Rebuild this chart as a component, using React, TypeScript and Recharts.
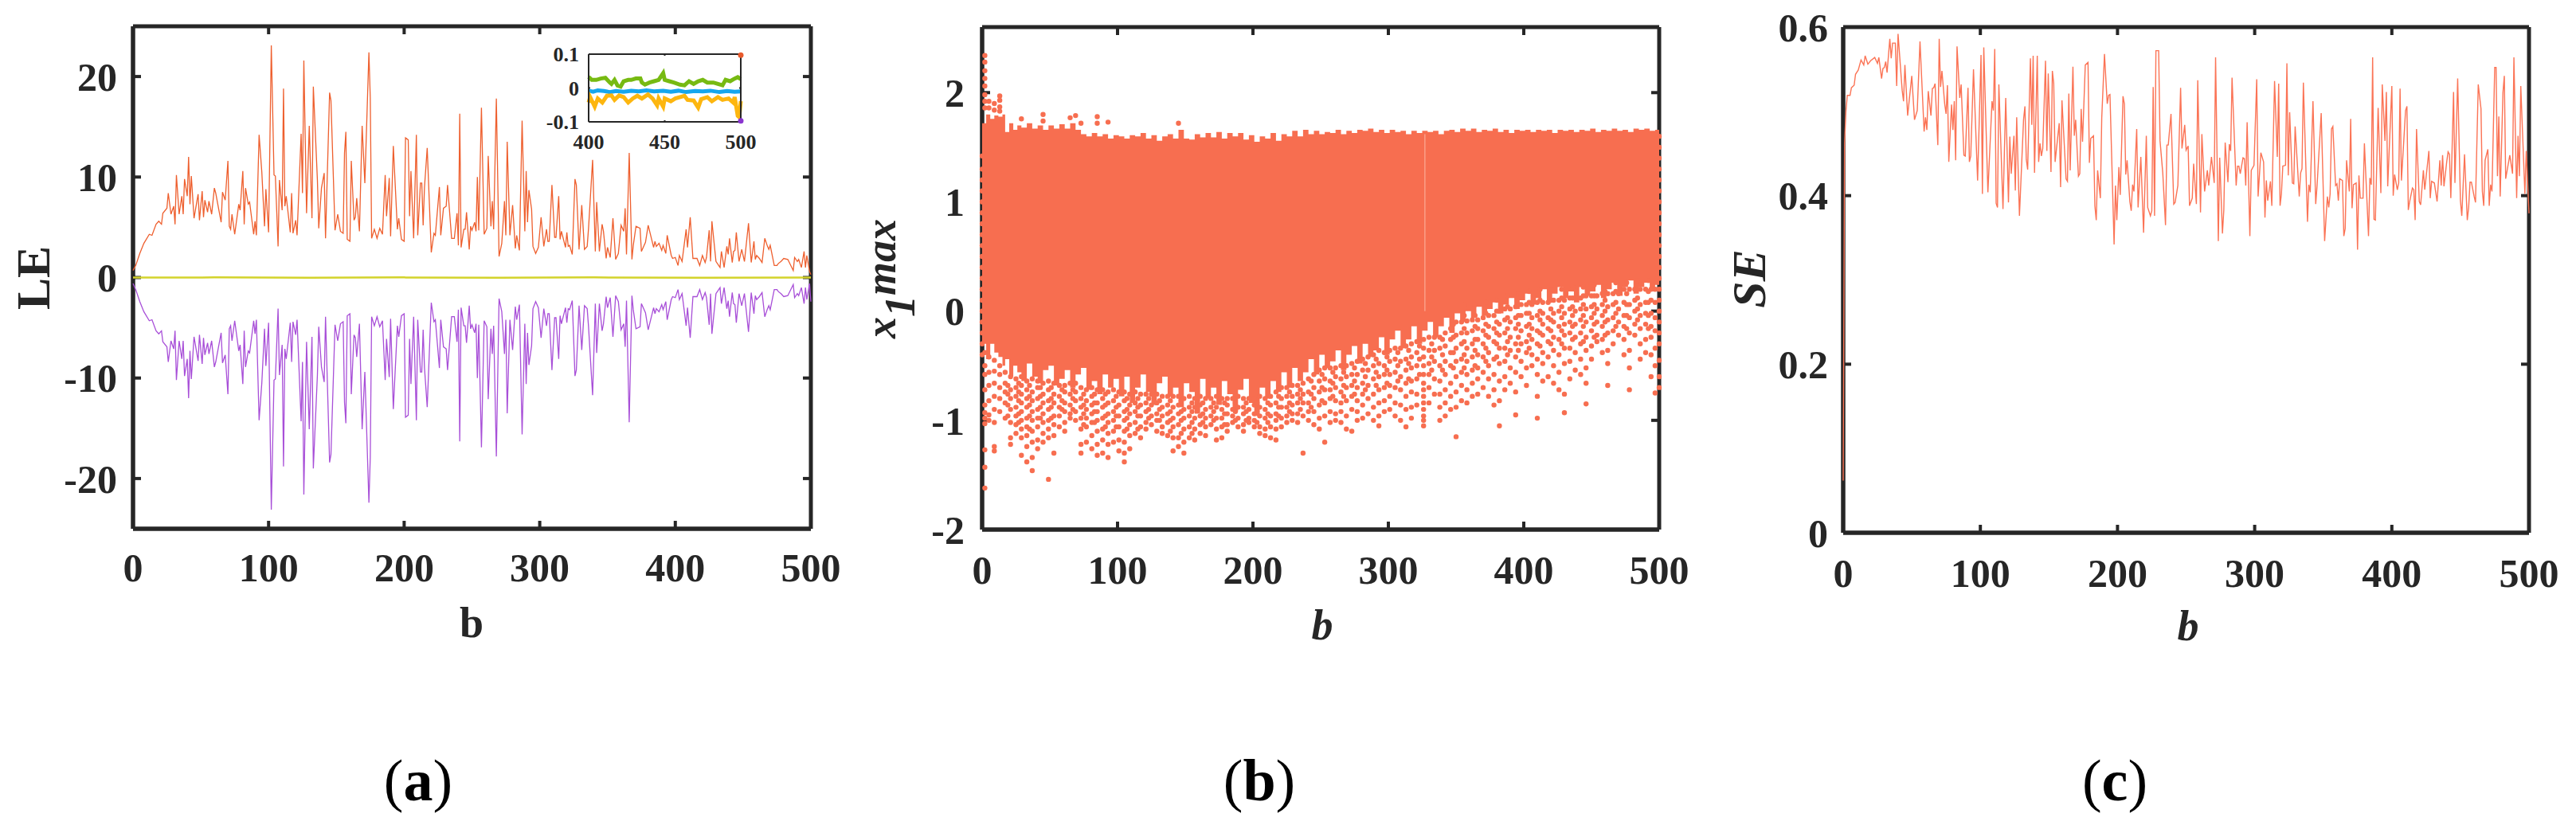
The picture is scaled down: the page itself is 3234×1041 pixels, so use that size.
import React from 'react';
import { LineChart, ComposedChart, Line, Area, Scatter, XAxis, YAxis, ReferenceLine } from 'recharts';

const bTicks = [0, 100, 200, 300, 400, 500];
const leTicks = [-20, -10, 0, 10, 20];
const xTicks = [-2, -1, 0, 1, 2];
const seTicks = [0, 0.2, 0.4, 0.6];
const insetBTicks = [400, 450, 500];
const insetTicks = [-0.1, 0, 0.1];

const lePositive: number[][] = [[0,0.7],[2,1.2],[5,2.4],[8,3.4],[12,4.3],[14,4.2],[17,5.3],[19,5.6],[21,5.3],[22,6.4],[25,6.9],[26,8.4],[28,6.3],[30,7.1],[31,5.3],[32,10.2],[34,6.3],[36,8.1],[37,6.3],[38,9.8],[40,8.1],[41,12.0],[42,7.3],[43,10.1],[45,5.9],[48,8.3],[49,5.7],[51,8.6],[52,6.0],[53,7.7],[55,6.5],[56,7.6],[58,6.3],[60,8.9],[61,8.4],[65,5.5],[66,8.5],[68,7.7],[70,11.6],[71,5.1],[72,4.8],[73,6.3],[75,4.3],[78,7.3],[79,6.7],[81,10.6],[82,5.3],[83,8.9],[85,7.3],[86,7.5],[89,4.3],[90,5.6],[91,4.2],[93,14.2],[95,10.5],[97,5.1],[98,8.8],[100,4.5],[102,23.1],[104,10.2],[105,10.1],[107,3.1],[108,9.7],[110,6.7],[111,18.8],[112,7.1],[113,8.1],[116,4.5],[117,8.4],[118,4.4],[120,5.7],[121,4.2],[124,14.3],[125,8.4],[126,21.6],[128,6.4],[130,15.1],[132,5.9],[133,19.0],[136,9.7],[137,4.9],[139,8.9],[141,10.4],[142,3.9],[145,18.4],[146,17.6],[149,4.7],[151,6.3],[153,4.6],[155,4.4],[156,12.4],[157,14.5],[158,3.8],[160,3.6],[161,11.6],[163,5.7],[164,6.0],[165,7.9],[167,4.6],[169,15.1],[171,9.4],[174,22.4],[175,17.9],[176,3.9],[178,4.8],[180,3.9],[182,4.9],[184,4.3],[186,10.2],[187,6.1],[189,9.9],[190,4.1],[192,13.1],[195,4.8],[196,5.9],[198,3.8],[200,3.6],[201,13.9],[203,13.7],[204,6.1],[205,10.6],[207,3.9],[209,14.2],[210,4.2],[212,9.4],[213,9.4],[214,5.2],[215,9.0],[217,12.9],[220,2.5],[222,4.4],[223,4.2],[226,9.0],[227,4.2],[229,6.9],[231,7.1],[232,9.2],[235,3.9],[237,3.9],[239,6.4],[240,3.2],[241,16.3],[242,3.0],[244,4.8],[245,4.8],[246,6.5],[248,2.8],[249,5.1],[250,4.7],[252,5.5],[253,4.6],[254,10.0],[255,4.7],[257,16.9],[259,4.3],[261,4.9],[262,12.1],[264,5.1],[265,7.6],[266,4.8],[268,17.8],[270,2.1],[272,3.4],[274,7.6],[275,4.2],[276,13.5],[278,4.2],[280,7.2],[282,2.9],[283,4.2],[285,2.7],[287,15.6],[289,4.6],[290,10.6],[291,5.5],[292,8.7],[294,6.8],[295,3.1],[297,2.4],[299,3.0],[301,6.0],[303,3.1],[305,4.8],[306,3.6],[307,3.6],[309,9.2],[311,4.0],[312,4.0],[314,8.1],[315,3.8],[316,4.6],[319,3.0],[320,4.5],[321,3.1],[322,3.2],[324,2.3],[326,9.8],[327,9.2],[329,2.8],[331,7.2],[333,2.8],[335,3.1],[336,4.9],[339,11.7],[341,2.6],[342,7.5],[344,2.6],[346,5.3],[347,4.6],[349,1.9],[350,3.0],[352,2.0],[354,5.9],[356,1.8],[358,2.4],[360,5.2],[362,4.6],[363,6.9],[364,2.3],[366,12.4],[368,1.8],[369,3.2],[371,5.1],[374,4.9],[375,2.6],[378,3.5],[380,5.2],[384,3.0],[385,3.6],[386,3.1],[388,3.4],[390,2.7],[391,3.2],[393,2.4],[394,4.2],[397,2.2],[398,1.9],[400,2.0],[402,1.2],[403,2.2],[405,1.6],[408,4.8],[409,3.0],[411,6.0],[413,1.9],[416,1.9],[418,1.2],[420,2.2],[422,1.5],[423,2.0],[425,4.7],[426,1.6],[427,5.6],[430,1.6],[433,1.0],[434,2.6],[436,1.0],[438,3.1],[439,2.3],[440,3.9],[442,1.5],[443,2.6],[444,2.7],[445,4.5],[447,1.6],[449,2.8],[451,1.6],[454,5.4],[456,1.5],[458,3.6],[459,1.8],[460,2.2],[462,1.9],[464,1.5],[466,3.9],[468,3.1],[469,2.8],[470,3.2],[473,1.2],[475,1.2],[476,1.4],[478,1.6],[480,1.9],[483,1.8],[487,0.7],[488,2.0],[490,1.6],[491,1.8],[493,1.0],[495,2.6],[496,1.0],[497,2.2],[499,0.6],[500,0.3]];

const leNegative: number[][] = [[0,-0.6],[2,-1.2],[5,-2.4],[8,-3.4],[12,-4.3],[14,-4.2],[17,-5.3],[19,-5.6],[21,-5.3],[22,-6.4],[25,-6.9],[26,-8.4],[28,-6.3],[30,-7.1],[31,-5.3],[32,-10.2],[34,-6.3],[36,-8.1],[37,-6.3],[38,-9.8],[40,-8.1],[41,-12.0],[42,-7.3],[43,-10.1],[45,-5.9],[48,-8.3],[49,-5.7],[51,-8.6],[52,-6.0],[53,-7.7],[55,-6.5],[56,-7.6],[58,-6.3],[60,-8.9],[61,-8.4],[65,-5.5],[66,-8.5],[68,-7.7],[70,-11.6],[71,-5.1],[72,-4.8],[73,-6.3],[75,-4.3],[78,-7.3],[79,-6.7],[81,-10.6],[82,-5.3],[83,-8.9],[85,-7.3],[86,-7.5],[89,-4.3],[90,-5.6],[91,-4.2],[93,-14.2],[95,-10.5],[97,-5.1],[98,-8.8],[100,-4.5],[102,-23.1],[104,-10.2],[105,-10.1],[107,-3.1],[108,-9.7],[110,-6.7],[111,-18.8],[112,-7.1],[113,-8.1],[116,-4.5],[117,-8.4],[118,-4.4],[120,-5.7],[121,-4.2],[124,-14.3],[125,-8.4],[126,-21.6],[128,-6.4],[130,-15.1],[132,-5.9],[133,-19.0],[136,-9.7],[137,-4.9],[139,-8.9],[141,-10.4],[142,-3.9],[145,-18.4],[146,-17.6],[149,-4.7],[151,-6.3],[153,-4.6],[155,-4.4],[156,-12.4],[157,-14.5],[158,-3.8],[160,-3.6],[161,-11.6],[163,-5.7],[164,-6.0],[165,-7.9],[167,-4.6],[169,-15.1],[171,-9.4],[174,-22.4],[175,-17.9],[176,-3.9],[178,-4.8],[180,-3.9],[182,-4.9],[184,-4.3],[186,-10.2],[187,-6.1],[189,-9.9],[190,-4.1],[192,-13.1],[195,-4.8],[196,-5.9],[198,-3.8],[200,-3.6],[201,-13.9],[203,-13.7],[204,-6.1],[205,-10.6],[207,-3.9],[209,-14.2],[210,-4.2],[212,-9.4],[213,-9.4],[214,-5.2],[215,-9.0],[217,-12.9],[220,-2.5],[222,-4.4],[223,-4.2],[226,-9.0],[227,-4.2],[229,-6.9],[231,-7.1],[232,-9.2],[235,-3.9],[237,-3.9],[239,-6.4],[240,-3.2],[241,-16.3],[242,-3.0],[244,-4.8],[245,-4.8],[246,-6.5],[248,-2.8],[249,-5.1],[250,-4.7],[252,-5.5],[253,-4.6],[254,-10.0],[255,-4.7],[257,-16.9],[259,-4.3],[261,-4.9],[262,-12.1],[264,-5.1],[265,-7.6],[266,-4.8],[268,-17.8],[270,-2.1],[272,-3.4],[274,-7.6],[275,-4.2],[276,-13.5],[278,-4.2],[280,-7.2],[282,-2.9],[283,-4.2],[285,-2.7],[287,-15.6],[289,-4.6],[290,-10.6],[291,-5.5],[292,-8.7],[294,-6.8],[295,-3.1],[297,-2.4],[299,-3.0],[301,-6.0],[303,-3.1],[305,-4.8],[306,-3.6],[307,-3.6],[309,-9.2],[311,-4.0],[312,-4.0],[314,-8.1],[315,-3.8],[316,-4.6],[319,-3.0],[320,-4.5],[321,-3.1],[322,-3.2],[324,-2.3],[326,-9.8],[327,-9.2],[329,-2.8],[331,-7.2],[333,-2.8],[335,-3.1],[336,-4.9],[339,-11.7],[341,-2.6],[342,-7.5],[344,-2.6],[346,-5.3],[347,-4.6],[349,-1.9],[350,-3.0],[352,-2.0],[354,-5.9],[356,-1.8],[358,-2.4],[360,-5.2],[362,-4.6],[363,-6.9],[364,-2.3],[366,-14.4],[368,-1.8],[369,-3.2],[371,-5.1],[374,-4.9],[375,-2.6],[378,-3.5],[380,-5.2],[384,-3.0],[385,-3.6],[386,-3.1],[388,-3.4],[390,-2.7],[391,-3.2],[393,-2.4],[394,-4.2],[397,-2.2],[398,-1.9],[400,-2.0],[402,-1.2],[403,-2.2],[405,-1.6],[408,-4.8],[409,-3.0],[411,-6.0],[413,-1.9],[416,-1.9],[418,-1.2],[420,-2.2],[422,-1.5],[423,-2.0],[425,-4.7],[426,-1.6],[427,-5.6],[430,-1.6],[433,-1.0],[434,-2.6],[436,-1.0],[438,-3.1],[439,-2.3],[440,-3.9],[442,-1.5],[443,-2.6],[444,-2.7],[445,-4.5],[447,-1.6],[449,-2.8],[451,-1.6],[454,-5.4],[456,-1.5],[458,-3.6],[459,-1.8],[460,-2.2],[462,-1.9],[464,-1.5],[466,-3.9],[468,-3.1],[469,-2.8],[470,-3.2],[473,-1.2],[475,-1.2],[476,-1.4],[478,-1.6],[480,-1.9],[483,-1.8],[487,-0.7],[488,-2.0],[490,-1.6],[491,-1.8],[493,-1.0],[495,-2.6],[496,-1.0],[497,-2.2],[499,-0.6],[500,-2.4]];

const leNearZero: number[][] = [[0,0],[60,0.01],[130,-0.01],[200,0.01],[270,-0.01],[340,0.01],[420,-0.01],[500,0]];

const insetGreen: number[][] = [[400,.033],[402,.024],[405,.024],[408,.028],[411,.03],[414,.016],[415,.012],[417,.024],[419,.007],[421,.004],[423,.02],[426,.024],[428,.024],[431,.028],[434,.028],[435,.016],[437,.01],[440,.016],[443,.02],[446,.024],[449,.044],[450,.024],[453,.02],[456,.016],[460,.01],[463,.008],[466,.02],[469,.012],[472,.02],[475,.024],[478,.016],[482,.016],[485,.012],[488,.008],[490,.024],[493,.02],[496,.028],[498,.032],[500,.026]];
const insetBlue: number[][] = [[400,-.008],[403,-.011],[406,-.007],[410,-.009],[414,-.012],[418,-.009],[423,-.011],[428,-.008],[433,-.01],[438,-.007],[443,-.01],[449,-.008],[454,-.011],[459,-.008],[464,-.012],[470,-.009],[475,-.01],[480,-.008],[486,-.012],[491,-.009],[496,-.011],[500,-.01]];
const insetYellow: number[][] = [[400,-.043],[401,-.027],[404,-.055],[406,-.031],[409,-.043],[412,-.023],[415,-.022],[417,-.035],[420,-.022],[423,-.027],[426,-.043],[429,-.031],[432,-.023],[435,-.031],[439,-.019],[442,-.031],[445,-.051],[446,-.031],[449,-.055],[450,-.031],[454,-.039],[457,-.031],[463,-.023],[465,-.035],[469,-.037],[472,-.058],[474,-.033],[478,-.027],[481,-.039],[485,-.027],[488,-.035],[492,-.031],[495,-.043],[496,-.027],[498,-.082],[499,-.086],[500,-.039]];
const insetTopEnd: number[][] = [[500,.097]];
const insetBottomEnd: number[][] = [[500,-.097]];

const sampleEntropy: number[][] = [[0,.062],[1,.462],[2,.5],[3,.519],[5,.519],[6,.528],[8,.531],[9,.544],[11,.549],[13,.561],[15,.555],[16,.566],[18,.556],[20,.56],[23,.564],[25,.557],[26,.564],[28,.539],[29,.551],[30,.552],[31,.559],[32,.546],[34,.586],[35,.563],[36,.581],[38,.581],[39,.53],[40,.592],[43,.525],[44,.512],[45,.555],[47,.495],[50,.542],[52,.49],[54,.501],[56,.583],[59,.476],[60,.493],[61,.478],[62,.524],[64,.495],[65,.527],[66,.528],[67,.533],[69,.46],[70,.586],[71,.529],[72,.548],[74,.509],[75,.497],[76,.531],[77,.44],[79,.508],[80,.478],[81,.512],[82,.442],[83,.577],[85,.516],[86,.532],[88,.448],[89,.447],[91,.528],[92,.44],[93,.447],[95,.55],[98,.418],[100.5,.567],[101.5,.402],[102.5,.576],[105.5,.404],[108.5,.512],[109.5,.501],[110.5,.574],[111.5,.391],[112.5,.386],[113.5,.532],[116.5,.384],[118.5,.516],[120.5,.392],[121.5,.47],[122.5,.426],[124.5,.471],[125.5,.406],[126.5,.493],[128.5,.376],[131.5,.49],[132.5,.506],[133.5,.443],[134.5,.431],[136.5,.563],[137.5,.484],[138.5,.566],[139.5,.427],[141.5,.566],[142.5,.44],[143.5,.462],[144.5,.447],[145.5,.456],[147.5,.56],[148.5,.453],[149.5,.545],[151.5,.428],[152.5,.548],[153.5,.533],[154.5,.44],[157.5,.486],[158.5,.41],[159.5,.513],[162.5,.42],[163.5,.417],[164.5,.521],[165.5,.43],[167.5,.553],[168.5,.471],[169.5,.49],[171.5,.423],[172.5,.426],[173.5,.503],[174.5,.464],[176.5,.555],[178.5,.558],[179.5,.439],[180.5,.468],[182.5,.471],[183.5,.388],[184.5,.371],[185.5,.43],[187.5,.397],[188.5,.492],[190.5,.568],[192.5,.509],[193.5,.519],[194.5,.52],[197.5,.342],[198.5,.412],[199.5,.371],[201,.434],[202,.401],[204,.518],[205,.509],[206,.425],[207,.442],[209,.393],[210,.382],[211,.413],[212,.405],[214,.479],[215,.386],[217,.446],[219,.356],[221,.471],[222,.386],[224,.376],[225,.382],[226,.529],[227,.376],[228,.572],[230,.572],[231,.465],[233,.427],[235,.365],[236,.46],[237,.46],[239,.497],[241,.39],[242,.392],[244,.412],[246,.528],[247,.456],[249,.484],[250,.454],[251.5,.459],[252.5,.388],[254.5,.397],[255.5,.438],[257.5,.39],[258.5,.537],[260.5,.38],[261.5,.473],[263.5,.405],[265.5,.43],[266.5,.412],[268.5,.446],[270.5,.415],[271.5,.564],[273.5,.346],[274.5,.445],[276.5,.355],[277.5,.383],[278.5,.463],[280.5,.416],[281.5,.461],[282.5,.453],[283.5,.54],[286.5,.412],[287.5,.435],[288.5,.435],[289.5,.426],[291.5,.445],[292.5,.444],[293.5,.412],[294.5,.487],[296.5,.352],[297.5,.43],[299.5,.436],[301.5,.538],[302.5,.399],[304.5,.451],[306.5,.44],[307.5,.374],[308.5,.418],[309.5,.394],[311.5,.417],[312.5,.388],[314.5,.536],[316.5,.446],[317.5,.533],[318.5,.388],[319.5,.402],[320.5,.435],[322.5,.436],[323.5,.557],[324.5,.424],[325.5,.499],[327.5,.415],[328.5,.414],[329.5,.482],[332.5,.399],[333.5,.427],[334.5,.432],[335.5,.534],[338.5,.369],[339.5,.413],[340.5,.404],[342.5,.512],[344.5,.39],[345.5,.412],[348.5,.498],[351,.346],[353,.399],[354,.386],[355,.402],[356,.479],[357,.482],[359,.412],[360,.414],[361,.394],[362,.42],[364,.418],[365,.352],[366,.361],[367,.442],[369,.405],[370,.491],[371,.385],[372,.413],[374,.415],[375,.336],[376,.424],[377,.397],[379,.397],[380,.462],[383,.352],[384,.421],[385,.413],[386,.564],[387,.372],[388,.371],[390,.504],[392,.403],[393,.532],[395,.465],[396,.523],[397,.411],[400,.53],[401,.4],[402,.425],[404,.407],[405,.415],[406,.527],[407,.418],[410,.501],[411,.506],[412,.383],[413,.393],[415,.409],[416,.407],[417,.371],[418,.479],[420,.393],[421,.389],[423,.43],[424,.407],[427,.453],[428,.397],[429,.417],[431,.415],[433,.393],[435,.442],[436,.412],[437,.448],[438,.411],[440,.44],[441,.452],[442,.449],[443,.397],[445,.523],[446,.415],[448,.539],[450,.394],[451,.376],[453,.449],[455,.371],[456,.386],[457,.416],[458,.416],[460,.399],[461,.392],[463,.532],[465,.503],[466,.405],[467,.388],[468,.442],[470,.455],[471,.388],[472,.413],[473,.405],[475,.552],[476,.552],[477,.423],[478,.494],[479,.399],[481,.522],[482,.542],[483,.42],[486,.448],[488,.426],[489,.564],[491,.397],[492,.471],[493,.423],[494,.53],[497,.402],[498,.453],[500,.379]];

const denseBand: number[][] = [[0,-.3,1.72],[3,-.44,1.8],[6,-.3,1.76],[9,-.38,1.79],[12,-.42,1.78],[15,-.5,1.8],[17,-.44,1.64],[20,-.6,1.72],[23,-.5,1.66],[26,-.56,1.7],[29,-.64,1.68],[33,-.48,1.72],[37,-.6,1.67],[41,-.66,1.7],[45,-.54,1.66],[49,-.5,1.7],[53,-.68,1.67],[57,-.62,1.71],[61,-.54,1.67],[65,-.7,1.72],[69,-.58,1.66],[73,-.52,1.62],[77,-.72,1.6],[81,-.64,1.63],[85,-.76,1.6],[89,-.58,1.62],[93,-.7,1.58],[97,-.62,1.61],[101,-.78,1.6],[105,-.6,1.58],[109,-.84,1.61],[113,-.7,1.6],[117,-.58,1.63],[121,-.74,1.58],[125,-.86,1.61],[129,-.66,1.56],[133,-.6,1.6],[137,-.78,1.62],[141,-.7,1.58],[145,-.88,1.66],[149,-.66,1.58],[153,-.74,1.57],[157,-.94,1.62],[161,-.62,1.59],[165,-.8,1.63],[169,-.7,1.59],[173,-.86,1.64],[177,-.64,1.58],[181,-.76,1.63],[185,-.92,1.6],[189,-.72,1.63],[193,-.62,1.57],[197,-.84,1.61],[201,-.96,1.55],[205,-.7,1.6],[209,-.8,1.58],[213,-.64,1.63],[217,-.74,1.56],[221,-.56,1.62],[225,-.7,1.6],[229,-.52,1.65],[233,-.64,1.6],[237,-.56,1.66],[241,-.44,1.62],[245,-.58,1.65],[249,-.4,1.62],[253,-.52,1.64],[257,-.46,1.63],[261,-.36,1.66],[265,-.54,1.62],[269,-.4,1.65],[273,-.32,1.63],[277,-.48,1.66],[281,-.3,1.65],[285,-.42,1.67],[289,-.36,1.64],[293,-.24,1.66],[297,-.4,1.63],[301,-.26,1.66],[305,-.18,1.64],[309,-.34,1.65],[313,-.26,1.62],[317,-.14,1.65],[321,-.3,1.63],[325,-.18,1.65],[329,-.1,1.64],[333,-.24,1.65],[337,-.14,1.62],[341,-.06,1.65],[345,-.2,1.66],[349,-.02,1.64],[353,-.1,1.67],[357,.0,1.65],[361,-.06,1.67],[365,.04,1.64],[369,-.04,1.66],[373,.02,1.65],[377,.08,1.67],[381,-.02,1.64],[385,.06,1.66],[389,.12,1.63],[393,.02,1.66],[397,.1,1.65],[401,.16,1.66],[405,.06,1.64],[409,.12,1.66],[413,.2,1.65],[417,.08,1.66],[421,.16,1.63],[425,.22,1.66],[429,.12,1.65],[433,.18,1.66],[437,.08,1.64],[441,.22,1.66],[445,.14,1.65],[449,.18,1.67],[453,.24,1.64],[457,.12,1.66],[461,.2,1.65],[465,.26,1.67],[469,.14,1.65],[473,.22,1.66],[477,.28,1.64],[481,.16,1.67],[485,.22,1.66],[489,.26,1.67],[493,.18,1.65],[497,.24,1.66],[500,.3,1.65]];

const sparseColumns: number[][] = [
[0,1.42,1.3,1.2,1.1,1.0,.9,.8,.7,.6,.5,.4,.3,.2,.1,0,-.1,-.2,-.3,-.4],
[2,2.34,2.28,2.2,2.13,2.06,1.98,1.92,1.86,-.38,-.5,-.58,-.72,-.86,-.93,-.98,-1.03,-1.27,-1.43,-1.62],
[5,1.92,1.86,-.42,-.56,-.68,-.82,-.95,-1.0],
[9,1.9,1.84,-.45,-.55,-.66,-.78,-.9,-1.02,-1.24,-1.28],
[13,1.97,1.93,1.87,1.83,-.5,-.58,-.7,-.8,-.92],
[17,-.56,-.66,-.74,-.84,-.98],
[21,-.6,-.72,-.8,-.9,-1.02,-1.16,-1.22],
[25,-.62,-.7,-.78,-.88,-.96,-1.04,-1.12],
[29,1.76,-.6,-.68,-.76,-.84,-.92,-1.0,-1.08,-1.16,-1.32],
[33,-.64,-.72,-.8,-.88,-.98,-1.06,-1.14,-1.24,-1.38],
[37,-.62,-.74,-.82,-.92,-1.0,-1.1,-1.2,-1.34,-1.46],
[41,-.64,-.7,-.8,-.9,-.98,-1.06,-1.18,-1.26],
[45,1.8,1.74,-.66,-.76,-.84,-.94,-1.02,-1.12,-1.2],
[49,-.64,-.72,-.82,-.9,-1.0,-1.08,-1.16,-1.54],
[53,-.66,-.76,-.84,-.96,-1.04,-1.14,-1.3],
[57,-.68,-.78,-.88,-.96,-1.06],
[61,-.68,-.74,-.84,-.92,-1.02,-1.1],
[65,1.77,-.66,-.76,-.86,-.94,-.98],
[69,1.79,-.66,-.74,-.82,-.92,-1.0],
[73,1.72,-.7,-.8,-.88,-.98,-1.08,-1.22,-1.3],
[77,-.72,-.82,-.9,-.98,-1.06,-1.2],
[81,-.7,-.78,-.86,-.94,-1.02,-1.14,-1.26],
[85,1.78,1.72,-.72,-.84,-.92,-1.0,-1.1,-1.22,-1.32],
[89,-.72,-.8,-.88,-.98,-1.08,-1.18,-1.3],
[93,1.73,-.74,-.84,-.94,-1.02,-1.12,-1.22,-1.34],
[97,-.72,-.82,-.92,-1.0,-1.1,-1.2],
[101,-.74,-.86,-.96,-1.06,-1.18,-1.28],
[105,-.74,-.82,-.92,-1.0,-1.1,-1.2,-1.3,-1.38],
[109,-.76,-.86,-.94,-1.04,-1.14,-1.26],
[113,-.74,-.84,-.92,-1.02,-1.12],
[117,-.76,-.86,-.96,-1.06,-1.16],
[121,-.76,-.84,-.92,-1.02,-1.08],
[125,-.76,-.86,-.96,-1.04],
[129,-.76,-.84,-.94,-1.0,-1.1],
[133,-.78,-.88,-.96,-1.06,-1.12],
[137,-.78,-.86,-.94,-1.02,-1.14],
[141,-.78,-.88,-.98,-1.06,-1.16,-1.28],
[145,1.72,-.78,-.86,-.94,-1.04,-1.16,-1.24],
[149,-.8,-.9,-.98,-1.08,-1.2,-1.3],
[153,-.78,-.88,-.96,-1.06,-1.16],
[157,-.8,-.88,-.98,-1.08,-1.18],
[161,-.78,-.86,-.96,-1.04,-1.12],
[165,-.8,-.9,-.98,-1.06,-1.14],
[169,-.8,-.88,-.96,-1.04],
[173,-.78,-.88,-.98,-1.08,-1.18],
[177,-.8,-.9,-.98,-1.06,-1.16],
[181,-.8,-.86,-.94,-1.04,-1.1],
[185,-.8,-.9,-.96,-1.02],
[189,-.78,-.88,-.98,-1.06],
[193,-.8,-.88,-.94,-1.04,-1.1],
[197,-.8,-.9,-.98,-1.02],
[201,-.8,-.86,-.94,-1.0,-1.06],
[205,-.78,-.88,-.96,-1.06,-1.12],
[209,-.8,-.9,-.98,-1.08,-1.14],
[213,-.78,-.86,-.96,-1.06,-1.16],
[217,-.74,-.84,-.94,-1.0,-1.08,-1.18],
[221,-.7,-.8,-.88,-.98,-1.06],
[225,-.7,-.78,-.88,-.96,-1.02],
[229,-.68,-.78,-.86,-.94,-1.0],
[233,-.68,-.76,-.84,-.94,-1.02],
[237,-.66,-.76,-.84,-.96,-1.3],
[241,-.62,-.74,-.84,-.92,-1.0],
[245,-.58,-.7,-.8,-.92,-1.04],
[249,-.54,-.64,-.74,-.86,-.98,-1.08],
[253,-.52,-.62,-.72,-.84,-.96,-1.2],
[257,-.52,-.64,-.72,-.8,-.92,-1.02],
[261,-.52,-.6,-.7,-.82,-.94,-1.0],
[265,-.5,-.62,-.74,-.84,-.92,-1.02],
[269,-.5,-.6,-.7,-.82,-.96,-1.08],
[273,-.48,-.58,-.68,-.78,-.9,-1.1],
[277,-.46,-.58,-.7,-.82,-.92,-1.0],
[281,-.44,-.54,-.66,-.76,-.86,-.98],
[285,-.42,-.54,-.68,-.8,-.94],
[289,-.4,-.5,-.62,-.76,-.88,-1.0],
[293,-.36,-.48,-.6,-.72,-.84,-.96,-1.05],
[297,-.38,-.5,-.58,-.7,-.82,-.92],
[301,-.36,-.46,-.58,-.68,-.78,-.9],
[305,-.34,-.44,-.56,-.7,-.84,-.96],
[309,-.34,-.46,-.6,-.72,-.86,-1.0],
[313,-.32,-.44,-.54,-.66,-.78,-.9,-1.06],
[317,-.3,-.42,-.52,-.64,-.74,-.88,-.98],
[321,-.28,-.38,-.5,-.62,-.76,-.86],
[326,-.26,-.34,-.42,-.5,-.58,-.66,-.72,-.78,-.84,-.9,-.96,-1.0,-1.05],
[330,-.24,-.36,-.48,-.58,-.7,-.84],
[334,-.24,-.36,-.46,-.62,-.76],
[338,-.24,-.34,-.5,-.64,-.76,-.88,-1.0],
[342,-.2,-.32,-.46,-.58,-.72,-.84,-.96],
[346,-.16,-.26,-.38,-.5,-.66,-.78,-.9],
[350,-.1,-.22,-.34,-.46,-.6,-.74,-.88,-1.15],
[354,-.1,-.2,-.3,-.44,-.56,-.68,-.82],
[358,-.09,-.2,-.34,-.46,-.58,-.72,-.84],
[362,-.08,-.18,-.3,-.42,-.54,-.66,-.78],
[366,-.08,-.16,-.26,-.4,-.52,-.62,-.76],
[370,-.06,-.18,-.3,-.42,-.56,-.7],
[374,-.04,-.14,-.24,-.38,-.5,-.62,-.78],
[378,-.04,-.16,-.28,-.44,-.58,-.72,-.86],
[382,0,-.12,-.22,-.34,-.48,-.64,-.82,-1.05],
[386,.02,-.08,-.2,-.34,-.46,-.6,-.72],
[390,.02,-.1,-.24,-.36,-.52,-.66],
[394,.04,-.06,-.16,-.3,-.42,-.56,-.74,-.95],
[398,.06,-.04,-.18,-.3,-.46,-.6],
[402,.06,-.02,-.14,-.28,-.38,-.52,-.68],
[406,.06,-.06,-.16,-.26,-.4,-.5],
[410,.08,-.04,-.18,-.3,-.44,-.58,-.78,-.98],
[414,.08,-.02,-.12,-.22,-.38,-.48,-.64],
[418,.08,-.06,-.16,-.28,-.42,-.6],
[422,.1,-.02,-.1,-.24,-.36,-.5,-.66],
[426,.1,0,-.14,-.26,-.4,-.56,-.72],
[430,.1,-.02,-.12,-.22,-.34,-.48,-.76,-.93],
[434,.12,.02,-.1,-.2,-.34,-.46,-.62],
[438,.12,0,-.12,-.24,-.38,-.54],
[442,.12,.02,-.08,-.2,-.3,-.44,-.58],
[446,.14,.02,-.1,-.24,-.36,-.52,-.66,-.85],
[450,.14,.04,-.06,-.18,-.32,-.44],
[454,.14,.02,-.1,-.22,-.28],
[458,.16,.06,-.04,-.14,-.26,-.38],
[462,.16,.04,-.08,-.2,-.36,-.48,-.68],
[466,.16,.06,-.06,-.18,-.3],
[470,.16,.02,-.1,-.22],
[474,.2,.08,-.04,-.14,-.26,-.4],
[478,.2,.06,-.06,-.2,-.36,-.52,-.72],
[482,.2,.1,0,-.12,-.22],
[486,.2,.06,-.04,-.16,-.3,-.44],
[490,.2,.08,-.02,-.12,-.26,-.38],
[494,.2,.1,-.02,-.14,-.24,-.4,-.6],
[497,.2,.08,-.06,-.18,-.34,-.5,-.75],
[500,1.6,1.5,1.4,1.3,1.2,1.1,1.0,.9,.8,.7,.6,.5,.4,.3,.2,.1,0,-.1,-.2,-.3,-.45,-.6,-.7],
[19,-.68,-.76,-.86,-.96],[27,-.66,-.74,-.82,-.94,-1.02],[35,-.68,-.78,-.86,-.96,-1.08],[43,-.7,-.78,-.88,-.98],[51,-.7,-.8,-.88,-.98],[59,-.72,-.82,-.9],[67,-.72,-.8,-.9],[75,-.76,-.86,-.94,-1.04],[83,-.76,-.84,-.92,-1.02],[91,-.76,-.86,-.96,-1.06],[99,-.78,-.88,-.96,-1.06],[107,-.8,-.9,-.98,-1.08],[115,-.8,-.88,-.96,-1.08],[123,-.8,-.9,-.98],[131,-.82,-.9,-1.0],[139,-.82,-.92,-1.0,-1.1],[147,-.82,-.92,-1.0,-1.12],[155,-.84,-.92,-1.02,-1.12],[163,-.84,-.94,-1.02],[171,-.84,-.92,-1.0],[179,-.84,-.94,-1.04],[187,-.84,-.92,-1.0],[195,-.84,-.92,-1.0],[203,-.84,-.92,-1.02],[211,-.84,-.94,-1.02],[219,-.78,-.88,-.96],[227,-.74,-.84,-.92],[235,-.72,-.8,-.9],[243,-.64,-.76,-.88],[251,-.58,-.7,-.82],[259,-.56,-.66,-.78],[267,-.56,-.68,-.78],[275,-.52,-.64,-.76],[283,-.48,-.6,-.72],[291,-.44,-.56,-.68],[299,-.42,-.54,-.66],[307,-.38,-.5,-.64],[315,-.36,-.48,-.62],[323,-.32,-.44,-.58],[332,-.3,-.42,-.54],[340,-.26,-.4,-.54],[348,-.12,-.24,-.38,-.52],[356,.06,-.04,-.16,-.28,-.4,-.52],[364,.06,-.04,-.14,-.26,-.36,-.5],[372,.08,-.02,-.12,-.22,-.34,-.46],[380,.1,0,-.1,-.2,-.3,-.42],[388,.14,.04,-.06,-.16,-.28,-.4],[396,.16,.06,-.04,-.12,-.24,-.36],[404,.18,.08,-.02,-.12,-.22,-.34],[412,.2,.1,0,-.08,-.2,-.32],[420,.2,.1,.02,-.08,-.18,-.3],[428,.2,.12,.04,-.06,-.18,-.3],[436,.22,.12,.04,-.04,-.14,-.26],[444,.22,.14,.06,-.04,-.14,-.28],[452,.24,.14,.06,-.02,-.12,-.24],[460,.26,.18,.1,0,-.1,-.22],[468,.26,.18,.08,-.02,-.14],[476,.26,.16,.06,-.04,-.16],[484,.28,.2,.12,.02,-.08],[492,.28,.18,.08,-.04,-.16]
];

const toPoints = (pairs: number[][]) => pairs.map(([b, v]) => ({ b, v }));
const sparsePoints = sparseColumns.flatMap(([b, ...vals]) => vals.map((v) => ({ b, v })));
const bandPoints = denseBand.map(([b, lo, hi]) => ({ b, band: [lo, hi] }));

const SERIF = '"Liberation Serif", serif';
const INK = '#262626';
const tickFont = { fontFamily: SERIF, fontWeight: 700, fontSize: 50, fill: INK };
const insetFont = { fontFamily: SERIF, fontWeight: 700, fontSize: 26, fill: INK };
const noLabel = () => <g />;

function frame(o: { xt: number[]; yt: number[]; xd: number[]; yd: number[]; yw: number; xh: number; xm: number; ym: number; font: any; len: number; sw: number; pw: number; ph: number; }) {
  const line = { stroke: INK, strokeWidth: o.sw };
  const corners = [{ b: o.xd[0], v: o.yd[0] }, { b: o.xd[1], v: o.yd[1] }];
  const dy = (o.len * (o.yd[1] - o.yd[0])) / o.ph;
  const dx = (o.len * (o.xd[1] - o.xd[0])) / o.pw;
  const inner = { type: 'number' as const, dataKey: 'b', domain: o.xd, ticks: o.xt, interval: 0 as const, height: 1, mirror: true, tickSize: o.len, tick: noLabel, axisLine: line, tickLine: false };
  const innerY = { type: 'number' as const, dataKey: 'v', domain: o.yd, ticks: o.yt, interval: 0 as const, width: 1, mirror: true, tickSize: o.len, tick: noLabel, axisLine: line, tickLine: false };
  const tickProps = { stroke: INK, strokeWidth: Math.min(o.sw, 4), ifOverflow: 'extendDomain' as const };
  return [
    <XAxis key="xb" type="number" dataKey="b" domain={o.xd} ticks={o.xt} interval={0} height={o.xh} tickSize={0} tickMargin={o.xm - o.len} tick={o.font} axisLine={line} tickLine={false} />,
    <YAxis key="yl" type="number" dataKey="v" domain={o.yd} ticks={o.yt} interval={0} width={o.yw} tickSize={0} tickMargin={o.ym - o.len} tick={o.font} axisLine={line} tickLine={false} />,
    <XAxis key="xm" xAxisId="innerBottom" orientation="bottom" {...inner} />,
    <XAxis key="xt" xAxisId="innerTop" orientation="top" {...inner} />,
    <YAxis key="ym" yAxisId="innerLeft" orientation="left" {...innerY} />,
    <YAxis key="yr" yAxisId="innerRight" orientation="right" {...innerY} />,
    <Line key="a0" data={corners} dataKey="v" stroke="none" dot={false} isAnimationActive={false} />,
    <Line key="a1" xAxisId="innerBottom" yAxisId="innerLeft" data={corners} dataKey="v" stroke="none" dot={false} isAnimationActive={false} />,
    <Line key="a2" xAxisId="innerTop" yAxisId="innerRight" data={corners} dataKey="v" stroke="none" dot={false} isAnimationActive={false} />,
    ...o.xt.flatMap((t) => [
      <ReferenceLine key={`xb${t}`} {...tickProps} segment={[{ x: t, y: o.yd[0] }, { x: t, y: o.yd[0] + dy }]} />,
      <ReferenceLine key={`xu${t}`} {...tickProps} segment={[{ x: t, y: o.yd[1] }, { x: t, y: o.yd[1] - dy }]} />,
    ]),
    ...o.yt.flatMap((t) => [
      <ReferenceLine key={`yl${t}`} {...tickProps} segment={[{ x: o.xd[0], y: t }, { x: o.xd[0] + dx, y: t }]} />,
      <ReferenceLine key={`yr${t}`} {...tickProps} segment={[{ x: o.xd[1], y: t }, { x: o.xd[1] - dx, y: t }]} />,
    ]),
  ];
}

function hiddenAxes(xd: number[], yd: number[]) {
  return [
    <XAxis key="x" hide type="number" dataKey="b" domain={xd} />,
    <YAxis key="y" hide type="number" dataKey="v" domain={yd} />,
  ];
}

const dotShape = (props: any) => <circle cx={props.cx} cy={props.cy} r={3.2} fill="#f76e50" />;

const boxStyle = (left: number, top: number): React.CSSProperties => ({ position: 'absolute', left, top });

export default function App() {
  return (
    <div style={{ position: 'absolute', left: 0, top: 0, width: 3234, height: 1041, background: '#fff', overflow: 'hidden' }}>
      <div style={boxStyle(0, 0)}>
        <LineChart width={1100} height={840} margin={{ top: 33, left: 80, right: 82, bottom: 116 }}>
          {frame({ xt: bTicks, yt: leTicks, xd: [0, 500], yd: [-25, 25], yw: 87, xh: 60, xm: 40, ym: 30, font: tickFont, len: 10, sw: 5, pw: 851, ph: 631 })}
        </LineChart>
      </div>
      <div style={boxStyle(0, 0)}>
        <LineChart width={1100} height={840} margin={{ top: 33, left: 167, right: 82, bottom: 176 }}>
          {hiddenAxes([0, 500], [-25, 25])}
          <Line data={toPoints(lePositive)} dataKey="v" stroke="#ee5f2e" strokeWidth={1.3} dot={false} isAnimationActive={false} />
          <Line data={toPoints(leNegative)} dataKey="v" stroke="#a84fd8" strokeWidth={1.3} dot={false} isAnimationActive={false} />
          <Line data={toPoints(leNearZero)} dataKey="v" stroke="#d3d32c" strokeWidth={2.5} dot={false} isAnimationActive={false} />
        </LineChart>
      </div>
      <div style={boxStyle(680, 50)}>
        <LineChart width={300} height={170} margin={{ top: 18, left: 0, right: 50, bottom: 0 }}>
          {frame({ xt: insetBTicks, yt: insetTicks, xd: [400, 500], yd: [-0.1, 0.1], yw: 59, xh: 67, xm: 18, ym: 14, font: insetFont, len: 2, sw: 2, pw: 191, ph: 85 })}
          <Line data={toPoints(insetTopEnd)} dataKey="v" stroke="none" dot={{ r: 3.5, fill: '#e85a2c', stroke: 'none' }} isAnimationActive={false} />
          <Line data={toPoints(insetBottomEnd)} dataKey="v" stroke="none" dot={{ r: 3.5, fill: '#8a35cf', stroke: 'none' }} isAnimationActive={false} />
          <Line data={toPoints(insetGreen)} dataKey="v" stroke="#77ba12" strokeWidth={5} dot={false} isAnimationActive={false} />
          <Line data={toPoints(insetBlue)} dataKey="v" stroke="#16a6ee" strokeWidth={5} dot={false} isAnimationActive={false} />
          <Line data={toPoints(insetYellow)} dataKey="v" stroke="#fdb60f" strokeWidth={5} dot={false} isAnimationActive={false} />
        </LineChart>
      </div>
      <div style={boxStyle(1100, 0)}>
        <LineChart width={1080} height={840} margin={{ top: 34, left: 50, right: 97, bottom: 115 }}>
          {frame({ xt: bTicks, yt: xTicks, xd: [0, 500], yd: [-2, 2.6], yw: 83, xh: 60, xm: 42.5, ym: 32, font: tickFont, len: 10, sw: 5, pw: 850, ph: 631 })}
        </LineChart>
      </div>
      <div style={boxStyle(1100, 0)}>
        <ComposedChart width={1080} height={840} margin={{ top: 34, left: 133, right: 97, bottom: 175 }}>
          {hiddenAxes([0, 500], [-2, 2.6])}
          <Area type="stepAfter" data={bandPoints} dataKey="band" stroke="none" fill="#f76e50" fillOpacity={1} dot={false} isAnimationActive={false} />
          <ReferenceLine stroke="#fdb7a4" strokeWidth={1} segment={[{ x: 327, y: 0 }, { x: 327, y: 1.62 }]} />
          <Scatter data={sparsePoints} dataKey="v" fill="#f76e50" shape={dotShape} isAnimationActive={false} />
        </ComposedChart>
      </div>
      <div style={boxStyle(2200, 0)}>
        <LineChart width={1034} height={840} margin={{ top: 34, left: 30, right: 59, bottom: 111 }}>
          {frame({ xt: bTicks, yt: seTicks, xd: [0, 500], yd: [0, 0.6], yw: 84, xh: 60, xm: 42.5, ym: 29, font: tickFont, len: 10, sw: 5, pw: 861, ph: 635 })}
        </LineChart>
      </div>
      <div style={boxStyle(2200, 0)}>
        <LineChart width={1034} height={840} margin={{ top: 34, left: 114, right: 59, bottom: 171 }}>
          {hiddenAxes([0, 500], [0, 0.6])}
          <Line data={toPoints(sampleEntropy)} dataKey="v" stroke="#fb7355" strokeWidth={1.4} dot={false} isAnimationActive={false} />
        </LineChart>
      </div>
      <svg width={3234} height={1041} style={{ position: 'absolute', left: 0, top: 0, pointerEvents: 'none' }} fontFamily={SERIF} fill={INK} fontWeight={700} fontSize={54}>
        <text transform="translate(62,349) rotate(-90)" textAnchor="middle" fontSize={60}>LE</text>
        <text x={592} y={800} textAnchor="middle">b</text>
        <text transform="translate(1124,350) rotate(-90)" textAnchor="middle" fontStyle="italic">x<tspan dy={24}>1</tspan><tspan dy={-24}>max</tspan></text>
        <text x={1660} y={803} textAnchor="middle" fontStyle="italic">b</text>
        <text transform="translate(2216,350) rotate(-90)" textAnchor="middle" fontStyle="italic" fontSize={60}>SE</text>
        <text x={2747} y={804} textAnchor="middle" fontStyle="italic">b</text>
        <g fill="#000" fontSize={74} fontWeight={400}>
          <text x={525} y={1005} textAnchor="middle">(<tspan fontWeight={700}>a</tspan>)</text>
          <text x={1581} y={1005} textAnchor="middle">(<tspan fontWeight={700}>b</tspan>)</text>
          <text x={2655} y={1005} textAnchor="middle">(<tspan fontWeight={700}>c</tspan>)</text>
        </g>
      </svg>
    </div>
  );
}
